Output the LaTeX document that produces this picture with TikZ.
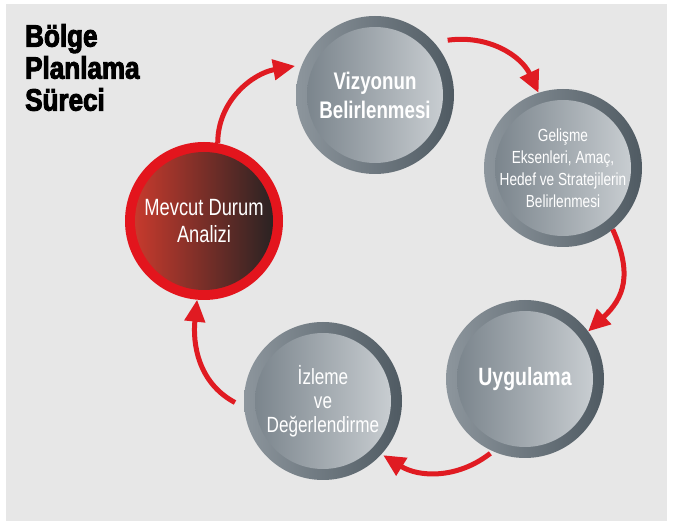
\documentclass[tikz,border=0pt]{standalone}
\usepackage{fontspec}
\setmainfont{Liberation Sans}
\newfontfamily\condR[FakeStretch=0.78]{Liberation Sans}
\newfontfamily\heavy[FakeStretch=0.84,FakeBold=3]{Liberation Sans}
\usetikzlibrary{arrows.meta}
\definecolor{bg}{HTML}{E7E7E7}
\definecolor{arrowred}{HTML}{E01B22}
\definecolor{ringL}{HTML}{8D969D}
\definecolor{ringR}{HTML}{4F5A62}
\definecolor{diskL}{HTML}{7B858D}
\definecolor{diskR}{HTML}{C8CDD1}
\definecolor{redring}{HTML}{E3151D}
\definecolor{mevL}{HTML}{C63A2D}
\definecolor{mevR}{HTML}{2A2323}
\tikzset{
  bubble/.style={circle, minimum size=158pt, inner sep=0pt, outer sep=0pt, text=white, align=center,
    path picture={
      \shade[left color=ringL, right color=ringR] (path picture bounding box.center) circle[radius=80pt];
      \shade[left color=diskL, right color=diskR] (path picture bounding box.center) circle[radius=68pt];
    }},
  redbubble/.style={circle, minimum size=158pt, inner sep=0pt, outer sep=0pt, text=white, align=center,
    path picture={
      \fill[redring] (path picture bounding box.center) circle[radius=80pt];
      \shade[left color=mevL, right color=mevR] (path picture bounding box.center) circle[radius=69pt];
    }},
  flow/.style={draw=arrowred, line width=5pt, -{Triangle[length=22pt,width=20pt]}},
}
\begin{document}
\begin{tikzpicture}[x=1pt,y=-1pt]
\useasboundingbox (0,0) rectangle (673,526);
\fill[white] (0,0) rectangle (673,526);
\fill[bg] (6,4) rectangle (667,521);

\node[anchor=north west, inner sep=0pt, align=left, font=\heavy\bfseries\fontsize{31}{32}\selectfont] (title) at (25,24) {Bölge\\Planlama\\Süreci};

\node[bubble, font=\condR\bfseries\fontsize{24}{29}\selectfont] (viz) at (375,95) {Vizyonun\\Belirlenmesi};
\node[bubble, font=\condR\fontsize{17.5}{22}\selectfont] (gel) at (563,168) {Gelişme\\Eksenleri, Amaç,\\Hedef ve Stratejilerin\\Belirlenmesi};
\node[bubble, font=\condR\bfseries\fontsize{25}{30}\selectfont] (uyg) at (525,379) {Uygulama};
\node[bubble, font=\condR\fontsize{22}{24}\selectfont] (izl) at (323,401) {İzleme\\ve\\Değerlendirme};
\node[redbubble, font=\condR\fontsize{23.5}{27}\selectfont] (mev) at (204,221) {Mevcut Durum\\Analizi};

\draw[flow] (mev.80) to[out=90, in=190] ([shift={(160:6pt)}]viz.160);
\draw[flow] ([shift={(37:12pt)}]viz.37) to[out=8, in=115] (gel.108);
\draw[flow] (gel.-51) to[out=-66, in=43, looseness=1.2] (uyg.37);
\draw[flow] ([shift={(245:3pt)}]uyg.245) to[out=218, in=-32] ([shift={(-42:2pt)}]izl.-42);
\draw[flow] ([shift={(181:9pt)}]izl.181) to[out=152, in=264] (mev.265);
\end{tikzpicture}
\end{document}
